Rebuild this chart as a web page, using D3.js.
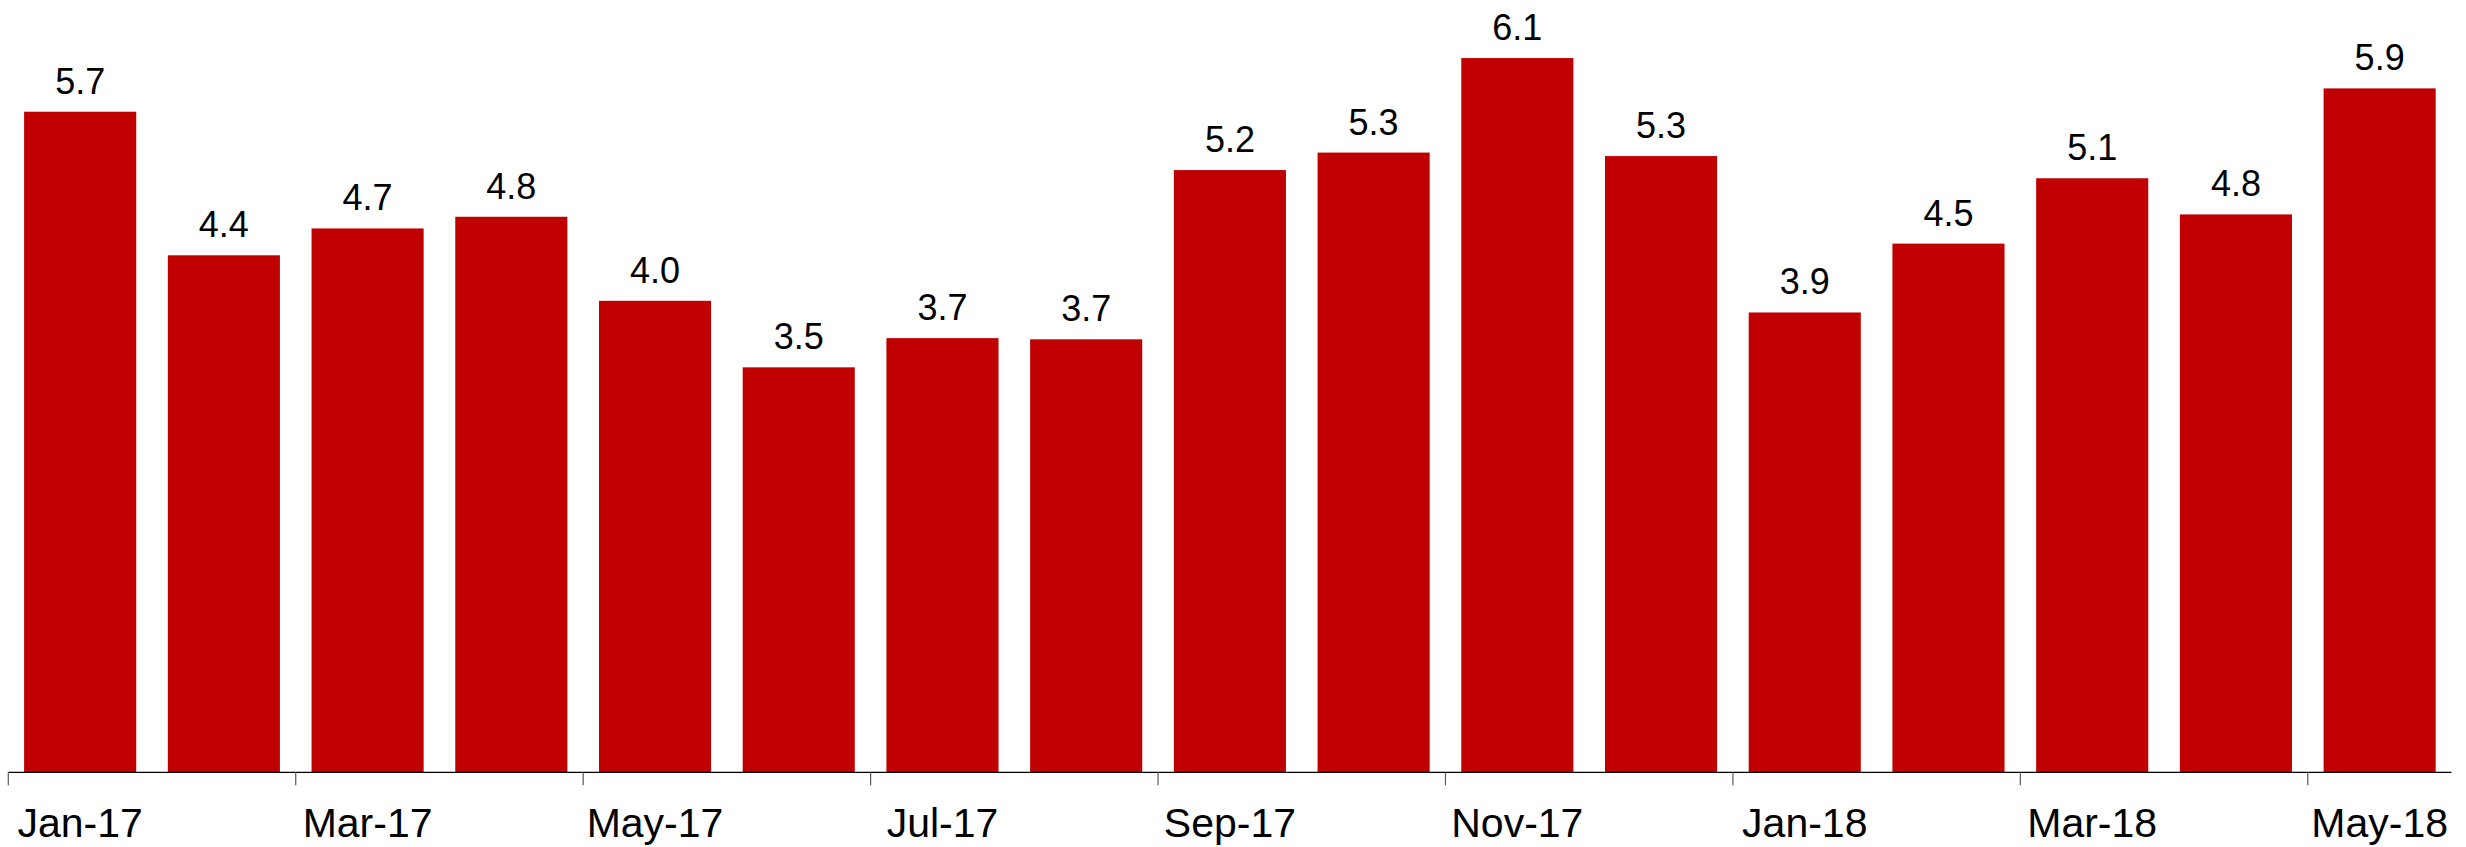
<!DOCTYPE html>
<html>
<head>
<meta charset="utf-8">
<script src="https://cdn.jsdelivr.net/npm/d3@7"></script>
<style>
  html, body { margin: 0; padding: 0; background: #fff; }
  svg { display: block; }
  text { font-family: "Liberation Sans", Arial, sans-serif; }
</style>
</head>
<body>
<svg id="chart" width="2466" height="847"></svg>
<script>
// ---- data ----
const categories = ["Jan-17","Feb-17","Mar-17","Apr-17","May-17","Jun-17","Jul-17","Aug-17",
  "Sep-17","Oct-17","Nov-17","Dec-17","Jan-18","Feb-18","Mar-18","Apr-18","May-18"];
const values = [5.66, 4.43, 4.66, 4.76, 4.04, 3.47, 3.72, 3.71,
  5.16, 5.31, 6.12, 5.28, 3.94, 4.53, 5.09, 4.78, 5.86];
const tickLabels = ["Jan-17","Mar-17","May-17","Jul-17","Sep-17","Nov-17","Jan-18","Mar-18","May-18"];
const yDomain = [0, 6.5];

// ---- layout ----
const x0 = 8.3, x1 = 2451.5, yBase = 772.3, yTop = 13.7;

const svg = d3.select("#chart");

const x = d3.scaleBand()
  .domain(categories)
  .range([x0, x1])
  .paddingInner(0.22)
  .paddingOuter(0.11);

const y = d3.scaleLinear().domain(yDomain).range([yBase, yTop]);

const fmt = d3.format(".1f");

// bars
svg.append("g").selectAll("rect")
  .data(values)
  .join("rect")
  .attr("x", (d, i) => x(categories[i]))
  .attr("y", d => y(d))
  .attr("width", x.bandwidth())
  .attr("height", d => y(0) - y(d))
  .attr("fill", "#C00000");

// value labels
svg.append("g").selectAll("text")
  .data(values)
  .join("text")
  .attr("x", (d, i) => x(categories[i]) + x.bandwidth() / 2)
  .attr("y", d => y(d) - 18)
  .attr("text-anchor", "middle")
  .attr("font-size", 36)
  .attr("fill", "#000")
  .text(d => fmt(d));

// axis line
const axis = svg.append("g");
axis.append("line")
  .attr("x1", x.range()[0]).attr("x2", x.range()[1])
  .attr("y1", y(0)).attr("y2", y(0))
  .attr("stroke", "#000").attr("stroke-width", 1.3);

const gap = (x.step() - x.bandwidth()) / 2;
// ticks at left boundary of each labelled category
axis.selectAll("line.tick")
  .data(tickLabels)
  .join("line")
  .attr("class", "tick")
  .attr("x1", d => x(d) - gap).attr("x2", d => x(d) - gap)
  .attr("y1", y(0)).attr("y2", y(0) + 13)
  .attr("stroke", "#595959").attr("stroke-width", 1.2);

axis.selectAll("text")
  .data(tickLabels)
  .join("text")
  .attr("x", d => x(d) + x.bandwidth() / 2)
  .attr("y", 836.5)
  .attr("text-anchor", "middle")
  .attr("font-size", 41)
  .attr("fill", "#000")
  .text(d => d);
</script>
</body>
</html>
